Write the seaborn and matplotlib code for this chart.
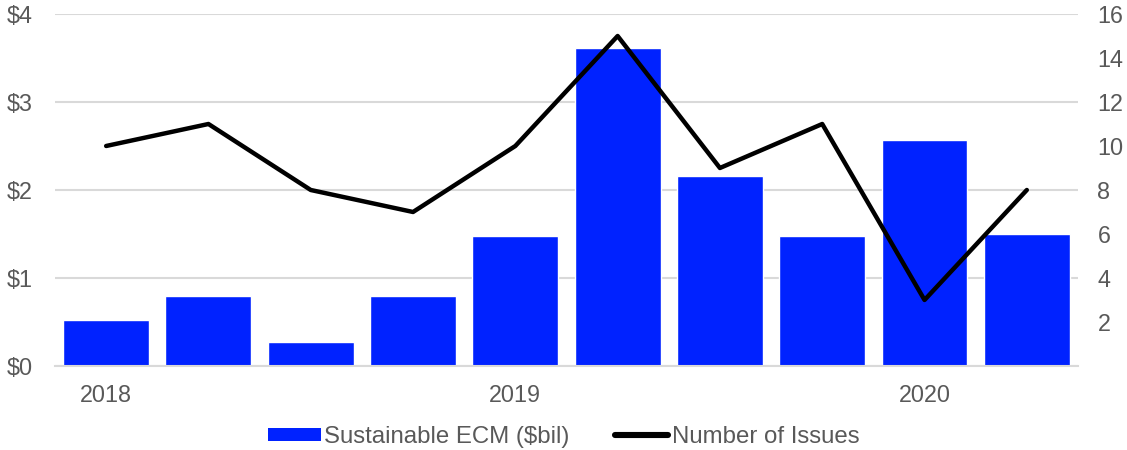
import matplotlib
matplotlib.use("Agg")
import matplotlib.pyplot as plt
import seaborn as sns
import numpy as np
import pandas as pd
from matplotlib.patches import Patch
from matplotlib.lines import Line2D

quarters = ["2018Q1", "2018Q2", "2018Q3", "2018Q4", "2019Q1", "2019Q2",
            "2019Q3", "2019Q4", "2020Q1", "2020Q2"]
ecm_bil = [0.52, 0.80, 0.27, 0.79, 1.48, 3.61, 2.16, 1.48, 2.57, 1.50]
issues = [10, 11, 8, 7, 10, 15, 9, 11, 3, 8]
tick_labels = ["2018", "", "", "", "2019", "", "", "", "2020", ""]
left_ticks = [0, 1, 2, 3, 4]
left_tick_labels = ["$0", "$1", "$2", "$3", "$4"]
right_ticks = [2, 4, 6, 8, 10, 12, 14, 16]

sns.set_theme(style="white")
plt.rcParams["font.family"] = ["Liberation Sans", "DejaVu Sans"]

BLUE = "#0022FF"
GRAY_TXT = "#595959"
GRID = "#D9D9D9"
FS = 16.8
LFS = 17.3

df = pd.DataFrame({"quarter": quarters, "ecm": ecm_bil, "issues": issues})
df["pos"] = np.arange(len(df))

fig = plt.figure(figsize=(11.27, 4.5), dpi=100)
ax = fig.add_axes([0.0488, 0.1867, 0.9077, 0.7822])

sns.barplot(data=df, x="quarter", y="ecm", color=BLUE, saturation=1,
            width=0.84, ax=ax, zorder=2)
ax.set_ylim(0, 4)
ax.set_xlim(-0.5, len(quarters) - 0.5)
ax.set_yticks(left_ticks)
ax.set_yticklabels(left_tick_labels)
ax.yaxis.grid(True, color=GRID, linewidth=1.5, zorder=0)
ax.set_axisbelow(True)
ax.set_xticks(range(len(quarters)))
ax.set_xticklabels(tick_labels)
ax.set_xlabel("")
ax.set_ylabel("")
for s in ["top", "right", "left"]:
    ax.spines[s].set_visible(False)
ax.spines["bottom"].set_color(GRID)
ax.spines["bottom"].set_linewidth(1.5)
ax.tick_params(axis="y", length=0, pad=16, labelsize=FS, labelcolor=GRAY_TXT)
ax.tick_params(axis="x", length=0, pad=13, labelsize=FS, labelcolor=GRAY_TXT)

ax2 = ax.twinx()
sns.lineplot(data=df, x="pos", y="issues", color="black", linewidth=3.2,
             ax=ax2, legend=False, zorder=3)
ax2.set_ylim(0, 16)
ax2.set_yticks(right_ticks)
ax2.set_xlim(-0.5, len(quarters) - 0.5)
ax2.set_ylabel("")
ax2.set_xlabel("")
for s in ["top", "right", "left", "bottom"]:
    ax2.spines[s].set_visible(False)
ax2.tick_params(axis="y", length=0, pad=14, labelsize=FS, labelcolor=GRAY_TXT)
ax2.grid(False)

handles = [Patch(facecolor=BLUE, edgecolor="none", label="Sustainable ECM ($bil)"),
           Line2D([0], [0], color="black", linewidth=4.4, solid_capstyle="round",
                  label="Number of Issues")]
fig.legend(handles=handles, loc="center", bbox_to_anchor=(0.5, 0.029), ncol=2,
           frameon=False, fontsize=LFS, labelcolor=GRAY_TXT, handlelength=2.2,
           handleheight=0.47, handletextpad=0.15, columnspacing=1.9)

fig.savefig("out.png", dpi=100)
